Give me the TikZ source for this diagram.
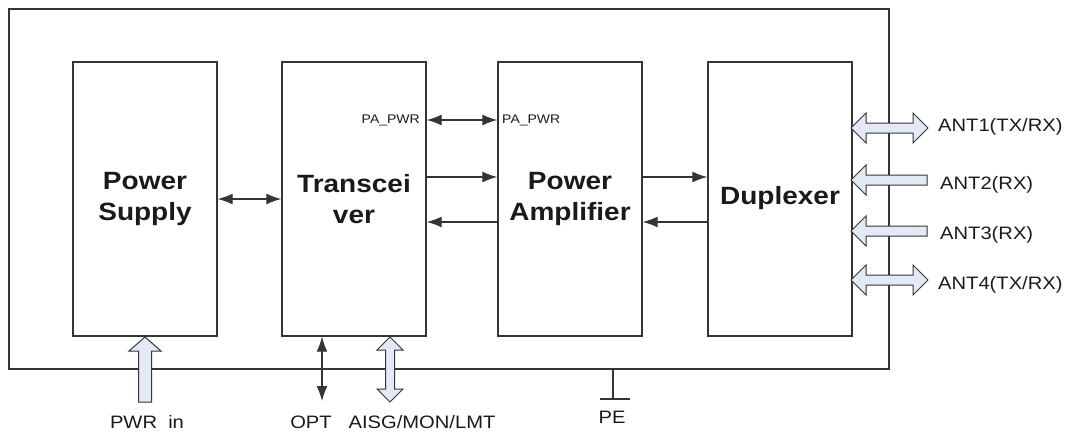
\documentclass[tikz,border=0pt]{standalone}
\usepackage{fontspec}
\setmainfont{Liberation Sans}[FakeStretch=1.12]
\usetikzlibrary{arrows.meta,positioning,calc}
\definecolor{edge}{HTML}{353535}
\definecolor{pale}{HTML}{E3EAF5}
\definecolor{ink}{HTML}{1A1A1A}

\begin{document}
\begin{tikzpicture}[x=1pt,y=-1pt,
    unit/.style={draw=edge,line width=1.4pt,minimum width=144pt,minimum height=274pt,
      align=center,text=ink,font=\fontsize{25}{31}\selectfont\bfseries},
    lab/.style={text=ink,inner sep=0pt,font=\fontsize{18}{20}\selectfont},
    tiny/.style={text=ink,inner sep=0pt,font=\fontsize{12.5}{14}\selectfont},
    sig/.style={draw=edge,line width=1.3pt,-{Latex[length=15pt,width=11pt]}},
    both/.style={sig,{Latex[length=15pt,width=11pt]}-{Latex[length=15pt,width=11pt]}},
    fat/.style={draw=edge,line width=1pt,fill=pale,line join=miter}]
  \useasboundingbox (0,0) rectangle (1075,432);

  % housing
  \node[draw=edge,line width=1.8pt,minimum width=880pt,minimum height=360pt] (frame) at (449,189) {};

  % units
  \node[unit] (ps)  at (145,199) {Power\\Supply};
  \node[unit] (trx) at (354,199) {Transcei\\ver};
  \node[unit] (pa)  at (570,199) {Power\\Amplifier};
  \node[unit] (dup) at (780,199) {\raisebox{7pt}{Duplexer}};

  % internal links
  \draw[both] (ps) -- (trx);
  \node[tiny,anchor=east] (pwra) at (420,120) {PA\_PWR};
  \node[tiny,anchor=west] (pwrb) at (502,120) {PA\_PWR};
  \draw[both] (trx.east |- pwra) -- (pa.west |- pwrb);
  \draw[sig] ([yshift=22pt]trx.east) -- ([yshift=22pt]pa.west);
  \draw[sig] ([yshift=-23pt]pa.west) -- ([yshift=-23pt]trx.east);
  \draw[sig] ([yshift=22pt]pa.east) -- ([yshift=22pt]dup.west);
  \draw[sig] ([yshift=-23pt]dup.west) -- ([yshift=-23pt]pa.east);

  % antenna ports
  \node[lab,anchor=west] (ant1) at (938,127) {ANT1(TX/RX)};
  \node[lab,anchor=west] (ant2) at (940,185) {ANT2(RX)};
  \node[lab,anchor=west] (ant3) at (940,235) {ANT3(RX)};
  \node[lab,anchor=west] (ant4) at (938,285) {ANT4(TX/RX)};
  \foreach \y in {128,280}
    \draw[fat] (851,\y) -- ++(15,-15) -- ++(0,10) -- (913,\y-5) -- ++(0,-10) -- (928,\y)
      -- ++(-15,15) -- ++(0,-10) -- (866,\y+5) -- ++(0,10) -- cycle;
  \foreach \y in {180,231}
    \draw[fat] (851,\y) -- ++(15,-15) -- ++(0,10) -- (927,\y-5) -- ++(0,10)
      -- (866,\y+5) -- ++(0,10) -- cycle;

  % bottom ports
  \node[lab] (pwr)  at (147,422) {PWR\ \ in};
  \node[lab] (opt)  at (311,422) {OPT};
  \node[lab] (aisg) at (422,422) {AISG/MON/LMT};
  \node[lab] (pe)   at (612,417) {PE};
  \draw[fat] (145,337) -- ++(16,14) -- ++(-9.5,0) -- (151.5,402) -- (138.5,402)
    -- ++(0,-51) -- ++(-9.5,0) -- cycle;
  \draw[fat] (390,337) -- (403,350) -- (394.5,350) -- (394.5,389) -- (403,389) -- (390,402)
    -- (377,389) -- (385.5,389) -- (385.5,350) -- (377,350) -- cycle;
  \coordinate (optp) at (322,401);
  \draw[both] (optp |- trx.south) -- (optp);
  \coordinate (gnd) at (613,399);
  \draw[draw=edge,line width=1.4pt] (gnd |- frame.south) -- (gnd);
  \draw[draw=edge,line width=1.4pt] ([xshift=-13pt]gnd) -- ([xshift=17pt]gnd);
\end{tikzpicture}
\end{document}
